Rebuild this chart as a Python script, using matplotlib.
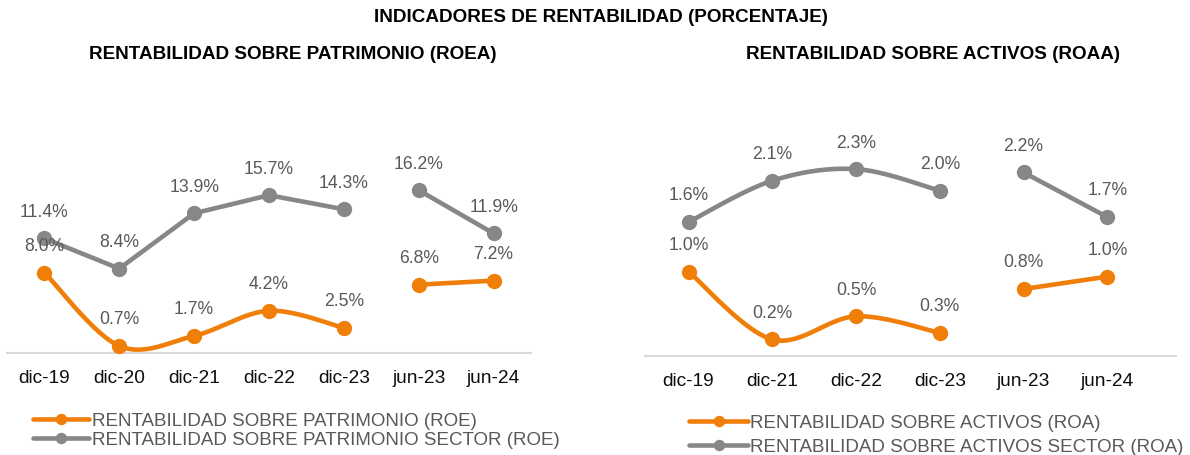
import numpy as np
import matplotlib
matplotlib.use('Agg')
import matplotlib.pyplot as plt
from matplotlib.lines import Line2D

plt.rcParams['font.family'] = ['Liberation Sans', 'DejaVu Sans']

# datos ROE
roe_cats = ['dic-19', 'dic-20', 'dic-21', 'dic-22', 'dic-23', 'jun-23', 'jun-24']
roe = [8.0, 0.7, 1.7, 4.2, 2.5, 6.8, 7.2]
roe_sector = [11.4, 8.4, 13.9, 15.7, 14.3, 16.2, 11.9]
roe_split = 5  # anuales | semestrales

# datos ROA
roa_cats = ['dic-19', 'dic-21', 'dic-22', 'dic-23', 'jun-23', 'jun-24']
roa = [1.02, 0.20, 0.48, 0.28, 0.81, 0.96]
roa_sector = [1.62, 2.12, 2.26, 2.00, 2.22, 1.68]
roa_split = 4

ORANGE = '#F07F09'
GRAY = '#878787'
TXT = '#595959'


def smooth(x, y, n=40):
    # curva tipo Excel (bezier con tangentes catmull-rom)
    pts = np.column_stack([x, y]).astype(float)
    if len(pts) < 2:
        return pts[:, 0], pts[:, 1]
    ext = np.vstack([pts[0], pts, pts[-1]])
    t = np.linspace(0, 1, n)[:, None]
    out = []
    for i in range(len(pts) - 1):
        p0, p1, p2, p3 = ext[i], ext[i + 1], ext[i + 2], ext[i + 3]
        c1 = p1 + (p2 - p0) / 6
        c2 = p2 - (p3 - p1) / 6
        seg = (1 - t) ** 3 * p1 + 3 * (1 - t) ** 2 * t * c1 + 3 * (1 - t) * t ** 2 * c2 + t ** 3 * p2
        out.append(seg)
    out = np.vstack(out)
    return out[:, 0], out[:, 1]


def draw_series(ax, vals, split, color, curved):
    x = np.arange(len(vals))
    for sl in (slice(0, split), slice(split, len(vals))):
        xs, ys = x[sl], np.array(vals)[sl]
        if curved:
            cx, cy = smooth(xs, ys)
        else:
            cx, cy = xs, ys
        ax.plot(cx, cy, color=color, lw=3.3, solid_capstyle='round', clip_on=False, zorder=2)
        ax.plot(xs, ys, 'o', color=color, ms=10, clip_on=False, zorder=3)
    for xi, v in zip(x, vals):
        ax.annotate(f'{v:.1f}%', (xi, v), xytext=(0, 19.5), textcoords='offset points',
                    ha='center', va='center', fontsize=12.7, color=TXT)


def style_axis(ax, cats):
    ax.set_xticks(range(len(cats)))
    ax.set_xticklabels(cats, fontsize=13.8, color='#0d0d0d')
    ax.set_yticks([])
    for s in ['top', 'left', 'right']:
        ax.spines[s].set_visible(False)
    ax.spines['bottom'].set_color('#D9D9D9')
    ax.spines['bottom'].set_linewidth(1.5)
    ax.tick_params(axis='x', length=0, pad=11.5)
    ax.patch.set_alpha(0)


W, H = 1190, 456
fig = plt.figure(figsize=(W / 100, H / 100), dpi=100)

# ROE
ax1 = fig.add_axes([7 / W, 1 - 354 / H, 524 / W, 274 / H])
draw_series(ax1, roe_sector, roe_split, GRAY, False)
draw_series(ax1, roe, roe_split, ORANGE, True)
ax1.set_xlim(-0.5, 6.5)
ax1.set_ylim(0, 274 / 10.05)
style_axis(ax1, roe_cats)

# ROA
ax2 = fig.add_axes([645 / W, 1 - 357 / H, 531 / W, 277 / H])
draw_series(ax2, roa_sector, roa_split, GRAY, True)
draw_series(ax2, roa, roa_split, ORANGE, True)
ax2.set_xlim(-0.52, 5.82)
ax2.set_ylim(0, 277 / 82.7)
style_axis(ax2, roa_cats)

# titulos
fig.text(0.505, 1 - 17 / H, 'INDICADORES DE RENTABILIDAD (PORCENTAJE)', ha='center', va='center',
         fontsize=13.6, fontweight='bold', color='black')
fig.text(293 / W, 1 - 54.5 / H, 'RENTABILIDAD SOBRE PATRIMONIO (ROEA)', ha='center', va='center',
         fontsize=13.6, fontweight='bold', color='black')
fig.text(933 / W, 1 - 54.5 / H, 'RENTABILIDAD SOBRE ACTIVOS (ROAA)', ha='center', va='center',
         fontsize=13.6, fontweight='bold', color='black')


# leyendas
def handles(labels):
    return [Line2D([], [], color=c, lw=3.3, marker='o', ms=7.2, solid_capstyle='round', label=l)
            for c, l in zip([ORANGE, GRAY], labels)]


leg1 = fig.legend(handles=handles(['RENTABILIDAD SOBRE PATRIMONIO (ROE)',
                                   'RENTABILIDAD SOBRE PATRIMONIO SECTOR (ROE)']),
                  loc='upper left', bbox_to_anchor=(33 / W, 1 - 413 / H), frameon=False,
                  fontsize=13.5, labelcolor=TXT, handlelength=3.0, handletextpad=0.15,
                  labelspacing=0.12, borderpad=0, borderaxespad=0)
leg2 = fig.legend(handles=handles(['RENTABILIDAD SOBRE ACTIVOS (ROA)',
                                   'RENTABILIDAD SOBRE ACTIVOS SECTOR (ROA)']),
                  loc='upper left', bbox_to_anchor=(689 / W, 1 - 415 / H), frameon=False,
                  fontsize=13.5, labelcolor=TXT, handlelength=3.15, handletextpad=0.12,
                  labelspacing=0.38, borderpad=0, borderaxespad=0)

fig.savefig('out.png', dpi=100)
